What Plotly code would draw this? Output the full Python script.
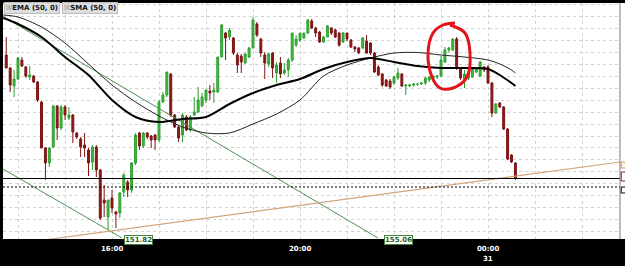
import plotly.graph_objects as go
import pandas as pd

# ---------------- data ----------------
times = pd.date_range("2024-10-30 13:45", periods=131, freq="5min")

opens = [152.85,152.72,152.54,152.61,152.80,152.73,152.63,152.64,152.58,152.38,
         151.92,151.77,151.93,152.34,152.12,152.33,152.22,152.25,152.07,152.01,
         151.95,151.90,151.78,151.93,151.70,151.40,151.23,151.42,151.28,151.27,
         151.48,151.58,151.50,151.77,152.07,151.94,152.07,152.04,152.05,152.00,
         152.38,152.45,152.66,152.25,152.13,152.05,152.23,152.10,152.25,152.28,
         152.34,152.40,152.49,152.48,152.48,152.83,153.07,153.03,153.02,152.85,
         152.84,152.77,152.83,152.92,153.16,153.01,152.85,152.76,152.87,152.67,
         152.77,152.67,152.70,152.80,152.95,153.00,153.02,153.07,153.19,153.12,
         153.08,152.98,153.03,153.12,153.10,153.07,152.98,153.07,153.00,152.93,
         152.92,152.92,152.99,152.97,152.87,152.73,152.66,152.60,152.59,152.57,
         152.62,152.66,152.54,152.54,152.55,152.56,152.56,152.57,152.60,152.62,
         152.63,152.64,152.78,152.90,152.90,153.01,152.72,152.60,152.62,152.63,
         152.68,152.64,152.73,152.73,152.57,152.27,152.37,152.33,152.11,151.85,
         151.77]
highs = [153.03,152.73,152.70,152.83,152.83,152.74,152.74,152.65,152.59,152.39,
         151.93,151.93,152.35,152.35,152.35,152.35,152.33,152.26,152.08,152.03,
         152.07,151.92,151.95,151.95,151.71,151.55,151.40,151.50,151.29,151.48,
         151.67,151.60,151.78,152.07,152.08,152.08,152.08,152.05,152.06,152.40,
         152.48,152.68,152.67,152.26,152.14,152.27,152.25,152.25,152.43,152.53,
         152.47,152.50,152.55,152.57,152.83,153.16,153.08,153.12,153.03,152.87,
         152.86,152.87,152.93,153.23,153.18,153.02,152.88,152.87,152.88,152.78,
         152.83,152.77,152.82,153.07,153.05,153.07,153.07,153.21,153.21,153.13,
         153.09,153.04,153.15,153.13,153.11,153.08,153.08,153.07,153.01,152.94,
         152.93,153.03,153.05,152.98,152.88,152.75,152.67,152.61,152.61,152.64,
         152.72,152.67,152.55,152.56,152.57,152.57,152.58,152.63,152.64,152.64,
         152.65,152.84,152.93,152.93,153.02,153.03,152.73,152.70,152.73,152.72,
         152.73,152.79,152.74,152.75,152.58,152.37,152.38,152.34,152.12,151.86,
         151.78]
lows = [152.72,152.48,152.43,152.60,152.73,152.62,152.60,152.57,152.38,151.92,
        151.60,151.73,151.92,152.00,152.10,152.20,152.20,151.97,152.01,151.83,
        151.83,151.64,151.70,151.63,151.20,151.23,151.10,151.27,151.12,151.22,
        151.43,151.43,151.47,151.75,151.90,151.92,152.01,151.92,151.90,151.98,
        152.37,152.43,152.23,152.12,151.98,151.98,152.09,152.08,152.24,152.27,
        152.33,152.37,152.40,152.37,152.47,152.83,152.80,153.00,152.85,152.67,
        152.67,152.76,152.82,152.92,153.03,152.83,152.61,152.73,152.62,152.57,
        152.62,152.65,152.63,152.78,152.93,152.98,153.01,153.06,153.11,153.03,
        152.97,152.97,153.03,153.05,153.02,152.93,152.97,152.99,152.92,152.88,
        152.86,152.91,152.86,152.85,152.67,152.64,152.53,152.53,152.51,152.55,
        152.60,152.53,152.45,152.53,152.53,152.54,152.55,152.55,152.58,152.60,
        152.61,152.63,152.77,152.88,152.89,152.70,152.60,152.52,152.60,152.62,
        152.67,152.63,152.68,152.56,152.23,152.26,152.32,152.10,151.80,151.77,
        151.60]
closes = [152.72,152.55,152.61,152.82,152.74,152.64,152.65,152.58,152.40,151.92,
          151.77,151.92,152.34,152.12,152.33,152.25,152.25,152.08,152.03,151.93,
          151.92,151.77,151.93,151.70,151.22,151.37,151.40,151.32,151.26,151.47,
          151.65,151.50,151.77,152.05,151.94,152.07,152.03,152.00,152.00,152.38,
          152.45,152.68,152.25,152.13,152.02,152.25,152.10,152.23,152.28,152.40,
          152.43,152.50,152.47,152.50,152.83,153.15,153.02,153.10,152.87,152.75,
          152.78,152.86,152.92,153.20,153.05,152.87,152.77,152.86,152.72,152.75,
          152.66,152.70,152.80,153.07,153.01,153.07,153.07,153.20,153.12,153.07,
          152.98,153.03,153.14,153.07,153.03,152.95,153.07,153.01,152.93,152.91,
          152.87,153.02,152.87,152.87,152.68,152.65,152.55,152.54,152.53,152.63,
          152.67,152.54,152.55,152.55,152.56,152.56,152.57,152.62,152.63,152.64,
          152.64,152.80,152.90,152.92,153.01,152.72,152.62,152.66,152.67,152.71,
          152.72,152.78,152.70,152.57,152.27,152.36,152.33,152.11,151.81,151.78,
          151.62]

ma_times = ["2024-10-30 13:41", "2024-10-30 14:00", "2024-10-30 14:30", "2024-10-30 15:00",
            "2024-10-30 15:30", "2024-10-30 16:00", "2024-10-30 16:30", "2024-10-30 17:00",
            "2024-10-30 17:30", "2024-10-30 18:00", "2024-10-30 18:30", "2024-10-30 19:00",
            "2024-10-30 19:30", "2024-10-30 20:00", "2024-10-30 20:30", "2024-10-30 21:00",
            "2024-10-30 21:30", "2024-10-30 22:00", "2024-10-30 22:30", "2024-10-30 23:00",
            "2024-10-30 23:30", "2024-10-31 00:00", "2024-10-31 00:15", "2024-10-31 00:30",
            "2024-10-31 00:35"]
ema50 = [153.22,153.16,153.03,152.83,152.65,152.40,152.23,152.18,152.21,152.23,
         152.36,152.47,152.55,152.61,152.71,152.78,152.82,152.78,152.74,152.72,
         152.72,152.71,152.65,152.57,152.54]
sma50 = [153.25,153.23,153.13,152.97,152.76,152.55,152.38,152.24,152.13,152.07,
         152.07,152.16,152.26,152.40,152.64,152.75,152.82,152.87,152.875,152.85,
         152.83,152.80,152.76,152.70,152.67]

# trend lines (endpoints)
trend_upper_t = ["2024-10-30 13:40:51", "2024-10-30 21:39:36"]
trend_upper_p = [153.236, 151.02]
trend_lower_t = ["2024-10-30 13:40:51", "2024-10-30 16:12:46"]
trend_lower_p = [151.71, 151.02]
support_t = ["2024-10-30 13:40:51", "2024-10-31 02:48:30"]
support_p = [150.944, 151.78]
last_price = 151.615
ask_price = 151.53

# hand-drawn circle (annotation)
circle_t = ["2024-10-30 23:11:30", "2024-10-30 23:30:40", "2024-10-30 23:37:00",
            "2024-10-30 23:33:10", "2024-10-30 23:15:20", "2024-10-30 22:58:40",
            "2024-10-30 22:48:30", "2024-10-30 22:43:25", "2024-10-30 22:49:50",
            "2024-10-30 23:02:35", "2024-10-30 23:17:55"]
circle_p = [153.15, 153.07, 152.87, 152.63, 152.52, 152.52, 152.63, 152.87, 153.07, 153.15, 153.17]

x_range = ["2024-10-30 13:40:51", "2024-10-31 02:48:30"]
y_range = [151.01, 153.37]
hour_ticks = pd.date_range("2024-10-30 14:00", "2024-10-31 02:00", freq="1h")

# ---------------- figure ----------------
fig = go.Figure()

fig.add_trace(go.Scatter(x=trend_upper_t, y=trend_upper_p, mode="lines",
                         line=dict(color="#4f8f4f", width=1), hoverinfo="skip", showlegend=False))
fig.add_trace(go.Scatter(x=trend_lower_t, y=trend_lower_p, mode="lines",
                         line=dict(color="#4f8f4f", width=1), hoverinfo="skip", showlegend=False))
fig.add_trace(go.Scatter(x=support_t, y=support_p, mode="lines",
                         line=dict(color="#d0a57c", width=1.2), hoverinfo="skip", showlegend=False))

fig.add_trace(go.Scatter(x=ma_times, y=sma50, mode="lines",
                         line=dict(color="#222222", width=1, shape="spline", smoothing=0.8),
                         hoverinfo="skip", showlegend=False))
fig.add_trace(go.Scatter(x=ma_times, y=ema50, mode="lines",
                         line=dict(color="#000000", width=2, shape="spline", smoothing=0.8),
                         hoverinfo="skip", showlegend=False))

fig.add_trace(go.Candlestick(
    x=times, open=opens, high=highs, low=lows, close=closes,
    increasing=dict(line=dict(color="#2e9e2e", width=1), fillcolor="#3cbc3c"),
    decreasing=dict(line=dict(color="#7d1414", width=1), fillcolor="#8b1a1a"),
    whiskerwidth=0, hoverinfo="skip", showlegend=False))

fig.add_trace(go.Scatter(x=circle_t, y=circle_p, mode="lines",
                         line=dict(color="#e4121b", width=3, shape="spline", smoothing=1.0),
                         hoverinfo="skip", showlegend=False))

# price lines
fig.add_shape(type="line", xref="paper", yref="y", x0=0, x1=1, y0=last_price, y1=last_price,
              line=dict(color="#000000", width=1))
fig.add_shape(type="line", xref="paper", yref="y", x0=0, x1=1, y0=ask_price, y1=ask_price,
              line=dict(color="#000000", width=1, dash="2px,2px"))

# right price-axis strip (cut off)
fig.add_shape(type="rect", xref="paper", yref="paper", x0=1, x1=1.02, y0=0, y1=1,
              fillcolor="white", line=dict(width=0), layer="below")
fig.add_shape(type="line", xref="paper", yref="paper", x0=1, x1=1, y0=0, y1=1,
              line=dict(color="#777777", width=1))
fig.add_shape(type="rect", xref="paper", yref="y", x0=1.002, x1=1.02, y0=151.72, y1=151.78,
              fillcolor="#fff6e8", line=dict(color="#c89a6a", width=1))
fig.add_shape(type="rect", xref="paper", yref="y", x0=1.002, x1=1.02, y0=151.59, y1=151.68,
              fillcolor="white", line=dict(color="#8b1a1a", width=1))
fig.add_shape(type="rect", xref="paper", yref="y", x0=1.002, x1=1.02, y0=151.47, y1=151.53,
              fillcolor="white", line=dict(color="#000000", width=1))

# legend boxes
for i, name in enumerate(["EMA (50, 0)", "SMA (50, 0)"]):
    fig.add_annotation(xref="paper", yref="paper", x=0.0016 + i * 0.094, y=0.977,
                       xanchor="left", yanchor="middle", showarrow=False,
                       text="<span style='color:#8a8a8a'>☒</span><b>" + name + "</b>",
                       font=dict(family="DejaVu Sans", size=7, color="#111111"),
                       bgcolor="#dedede", bordercolor="#bdbdbd", borderwidth=1, borderpad=1)

# trend line labels
for t, txt in [("2024-10-30 16:33:50", "151.82"), ("2024-10-30 22:05:06", "155.06")]:
    fig.add_annotation(xref="x", yref="paper", x=t, y=-0.006, showarrow=False,
                       text="<b>" + txt + "</b>", xanchor="center", yanchor="middle",
                       font=dict(family="DejaVu Sans", size=7, color="#1f5f1f"),
                       bgcolor="white", bordercolor="#3f7f3f", borderwidth=1, borderpad=0)

# time labels
for t, txt in [("2024-10-30 16:00", "16:00"), ("2024-10-30 20:00", "20:00"), ("2024-10-31 00:00", "00:00")]:
    fig.add_annotation(xref="x", yref="paper", x=t, y=-0.042, showarrow=False,
                       text="<b>" + txt + "</b>", xanchor="center", yanchor="middle",
                       font=dict(family="DejaVu Sans", size=7, color="white"))
fig.add_annotation(xref="x", yref="paper", x="2024-10-31 00:00", y=-0.085, showarrow=False,
                   text="<b>31</b>", xanchor="center", yanchor="middle",
                   font=dict(family="DejaVu Sans", size=7, color="white"))

fig.update_layout(
    width=625, height=266,
    margin=dict(l=3, r=5, t=3, b=27),
    paper_bgcolor="black", plot_bgcolor="white",
    showlegend=False,
    xaxis=dict(type="date", range=x_range, tickvals=list(hour_ticks), showticklabels=False,
               showgrid=True, gridcolor="#d2d2d2", griddash="3px,3px", gridwidth=1,
               zeroline=False, showline=False, ticks="", rangeslider=dict(visible=False)),
    yaxis=dict(range=y_range, tick0=151.085, dtick=0.1193, showticklabels=False,
               showgrid=True, gridcolor="#d2d2d2", griddash="3px,3px", gridwidth=1,
               zeroline=False, showline=False, ticks=""),
)

fig.write_html("out.html")
